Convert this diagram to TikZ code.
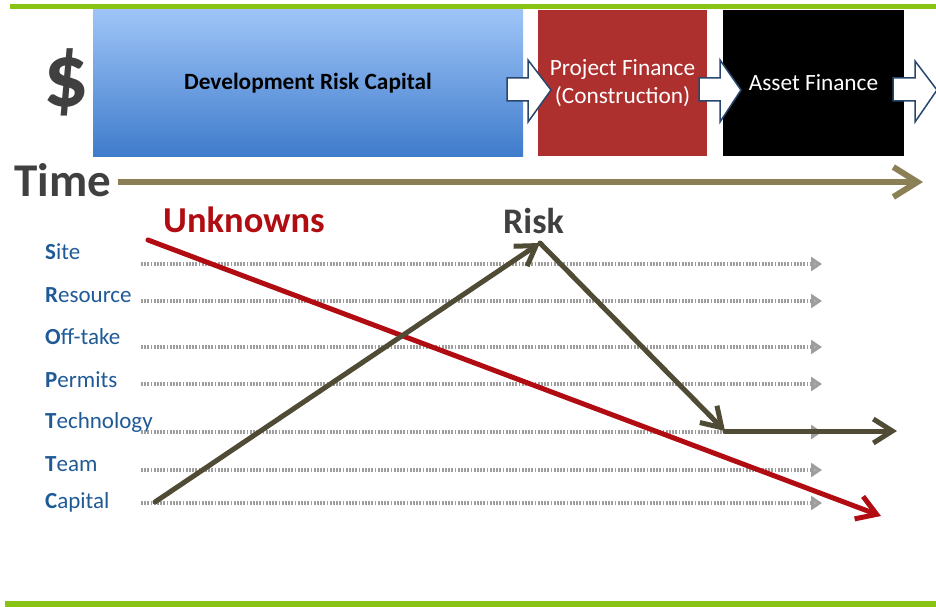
\documentclass[tikz,border=0pt]{standalone}
\usepackage{fontspec}
\setmainfont{Carlito}
\usetikzlibrary{arrows.meta}
\definecolor{grn}{RGB}{137,196,20}
\definecolor{blueTop}{RGB}{158,196,247}
\definecolor{blueBot}{RGB}{63,124,204}
\definecolor{boxRed}{RGB}{174,48,46}
\definecolor{arrBlue}{RGB}{40,70,110}
\definecolor{darkTxt}{RGB}{64,64,64}
\definecolor{timeCol}{RGB}{139,128,85}
\definecolor{unkRed}{RGB}{176,12,18}
\definecolor{riskCol}{RGB}{79,75,53}
\definecolor{lblBlue}{RGB}{31,90,150}
\definecolor{dotGray}{RGB}{158,158,158}
\tikzset{
  stagebox/.style={minimum height=146pt, inner sep=0pt, align=center, font=\fontsize{23.3}{28}\selectfont},
  blockarrow/.style={draw=arrBlue, fill=white, line width=1.5pt, line join=miter},
  factor/.style={anchor=base west, inner sep=0pt, text=lblBlue, font=\fontsize{23}{26}\selectfont},
  dotline/.style={draw=dotGray, line width=4.5pt, dash pattern=on 1.8pt off 1.4pt, -{Triangle[length=11pt,width=14pt,fill=dotGray!85]}},
  heavyred/.style={draw=unkRed, line width=5pt, line cap=round, -{Straight Barb[length=19pt,width=24pt,line width=5pt]}},
  heavyrisk/.style={draw=riskCol, line width=5pt, line cap=round, -{Straight Barb[length=19pt,width=24pt,line width=5pt]}},
}
\begin{document}
\begin{tikzpicture}[x=1pt,y=-1pt]
\useasboundingbox (0,0) rectangle (936,607);
% green bars
\fill[grn] (10,4) rectangle (936,9);
\fill[grn] (5,601) rectangle (936,607);
% stage boxes
\node[stagebox, top color=blueTop, bottom color=blueBot, minimum width=430pt] (dev) at (308,83) {\bfseries Development Risk Capital};
\node[stagebox, fill=boxRed, minimum width=169pt, text=white] (pf) at (622.5,83) {Project Finance\\(Construction)};
\node[stagebox, fill=black, minimum width=181pt, text=white] (af) at (813.5,83) {Asset Finance};
% block arrows
\draw[blockarrow] (507,78) -- (528,78) -- (528,60) -- (551,90) -- (528,122) -- (528,101) -- (507,101) -- cycle;
\draw[blockarrow] (699,78) -- (720,78) -- (720,60) -- (741,90) -- (720,122) -- (720,101) -- (699,101) -- cycle;
\draw[blockarrow] (893,78) -- (915,78) -- (915,61) -- (937,90) -- (915,122) -- (915,101) -- (893,101) -- cycle;
% dollar and time
\node[text=darkTxt, font=\fontsize{90}{94}\selectfont\bfseries, inner sep=0pt] (dollar) at (66,82) {\$};
\node[text=darkTxt, font=\fontsize{47}{50}\selectfont\bfseries, anchor=base west, inner sep=0pt] (time) at (14,196) {Time};
\coordinate (tS) at (118,182);
\coordinate (tE) at (923,182);
\draw[timeCol, line width=6pt, -{Straight Barb[length=24pt,width=30pt,line width=6pt]}] (tS) -- (tE);
% headings
\node[text=unkRed, font=\fontsize{36.5}{40}\selectfont\bfseries, anchor=base west, inner sep=0pt] (unk) at (163,232) {Unknowns};
\node[text=darkTxt, font=\fontsize{36}{40}\selectfont\bfseries, anchor=base west, inner sep=0pt] (risk) at (503,233) {Risk};
% factor labels
\node[factor] (site) at (45,259) {\textbf{S}ite};
\node[factor] (res) at (45,302) {\textbf{R}esource};
\node[factor] (off) at (45,344) {\textbf{O}ff-take};
\node[factor] (perm) at (45,387) {\textbf{P}ermits};
\node[factor] (tech) at (45,428) {\textbf{T}echnology};
\node[factor] (team) at (45,471) {\textbf{T}eam};
\node[factor] (cap) at (45,508) {\textbf{C}apital};
% dotted lines
\foreach \n/\y in {1/264,2/301,3/347,4/384,5/432,6/470,7/503}{
  \coordinate (ds\n) at (141,\y);
  \coordinate (de\n) at (822,\y);
  \draw[dotline] (ds\n) -- (de\n);
}
% unknowns line
\coordinate (uS) at (148,240);
\coordinate (uE) at (881,516);
\draw[heavyred] (uS) -- (uE);
% risk line
\coordinate (rS) at (155,502);
\coordinate (rP) at (540,243);
\coordinate (rL) at (725,431);
\coordinate (rE) at (897,431);
\draw[heavyrisk] (rS) -- (rP);
\draw[heavyrisk] (rP) -- (rL);
\draw[heavyrisk] (rL) -- (rE);
\end{tikzpicture}
\end{document}
